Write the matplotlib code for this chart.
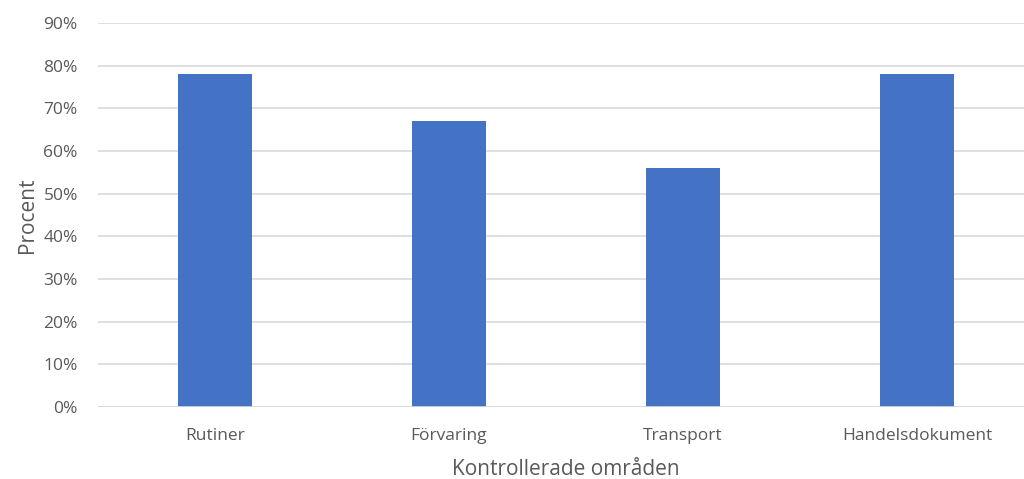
import matplotlib
matplotlib.use('Agg')
import matplotlib.pyplot as plt
import matplotlib.ticker as ticker

matplotlib.rc('font', family=['Open Sans', 'DejaVu Sans'], size=12.5)

categories = ['Rutiner', 'Förvaring', 'Transport', 'Handelsdokument']
procent = [78, 67, 56, 78]
yticks = [0, 10, 20, 30, 40, 50, 60, 70, 80, 90]

txt = '#595959'

fig = plt.figure(figsize=(10.24, 4.79), dpi=100)
ax = fig.add_axes([98 / 1024, 72 / 479, 936 / 1024, 384 / 479])

x = range(len(categories))
ax.bar(x, procent, width=0.316, color='#4472c4', zorder=3)

ax.set_xlim(-0.5, len(categories) - 0.5)
ax.set_ylim(0, 90)
ax.set_yticks(yticks)
ax.yaxis.set_major_formatter(ticker.FuncFormatter(lambda v, p: '%d%%' % v))
ax.set_xticks(list(x))
ax.set_xticklabels(categories)

ax.grid(axis='y', color='#d9d9d9', linewidth=1.2, zorder=0)
ax.axhline(0, color='#d9d9d9', linewidth=1.2, zorder=4)
for s in ax.spines.values():
    s.set_visible(False)
ax.tick_params(axis='both', length=0, colors=txt, labelsize=12.5)
ax.tick_params(axis='y', pad=14.5)
ax.tick_params(axis='x', pad=15)

ax.set_xlabel('Kontrollerade områden', color=txt, fontsize=15, labelpad=11)
ax.set_ylabel('Procent', color=txt, fontsize=15, labelpad=4)

fig.savefig('out.png', dpi=100)
